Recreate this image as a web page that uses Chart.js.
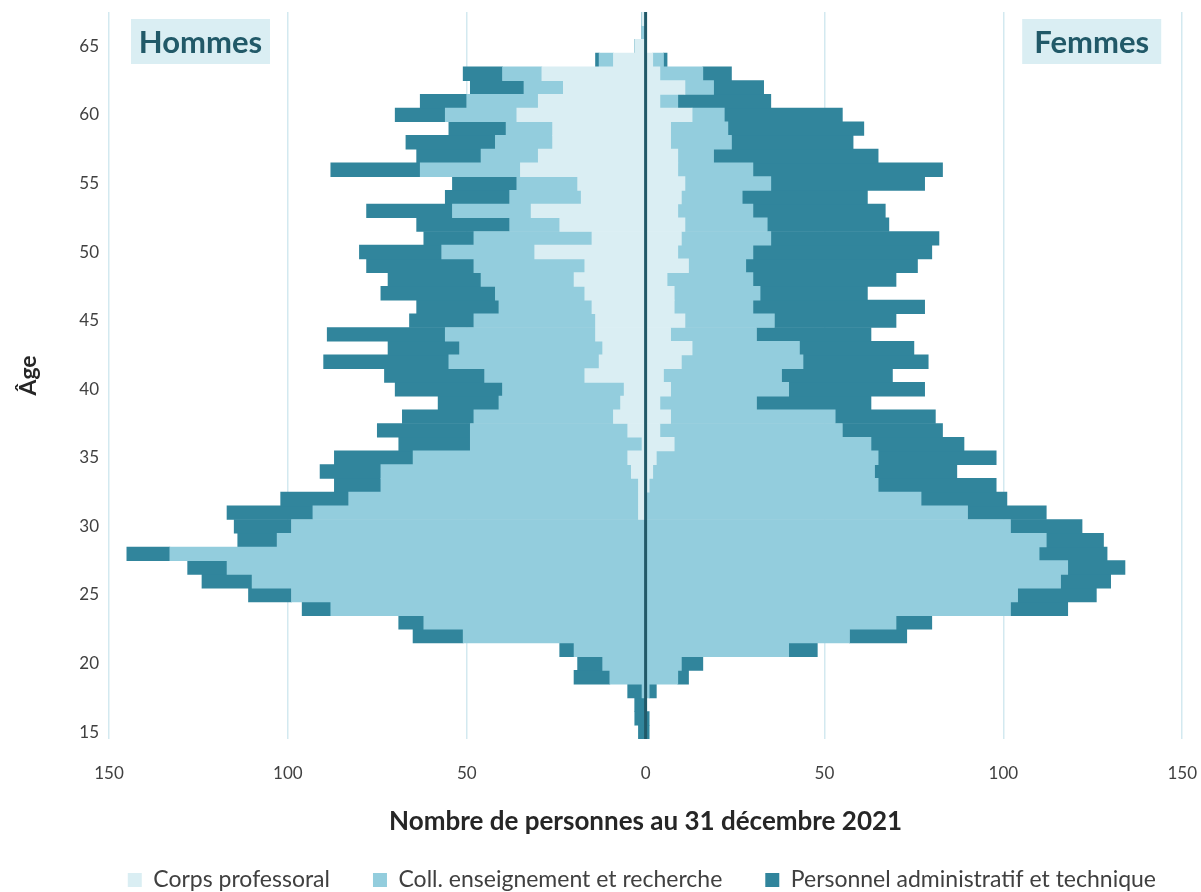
<!DOCTYPE html>
<html>
<head>
<meta charset="utf-8">
<title>Pyramide des âges</title>
<script src="https://cdn.jsdelivr.net/npm/chart.js@4.4.1/dist/chart.umd.min.js"></script>
<style>
  html, body { margin: 0; padding: 0; background: #ffffff; overflow: hidden; }
  #wrap { position: relative; width: 1201px; height: 892px; }
</style>
</head>
<body>
<div id="wrap"><canvas id="chart"></canvas></div>
<script>
// ages 15..67, one bar per year
var ages = [15, 16, 17, 18, 19, 20, 21, 22, 23, 24, 25, 26, 27, 28, 29, 30, 31, 32, 33, 34,
  35, 36, 37, 38, 39, 40, 41, 42, 43, 44, 45, 46, 47, 48, 49, 50, 51, 52, 53, 54,
  55, 56, 57, 58, 59, 60, 61, 62, 63, 64, 65, 66, 67];

var seriesNames = ["Corps professoral", "Coll. enseignement et recherche", "Personnel administratif et technique"];

// Hommes (counts, drawn to the left)
var menCorps = [0, 0, 0, 0, 0, 0, 0, 0, 0, 0, 0, 0, 0, 0, 0, 0, 2, 2, 2, 4,
  5, 1, 5, 9, 7, 6, 17, 13, 12, 14, 14, 15, 17, 20, 17, 31, 15, 24, 32, 18,
  19, 35, 30, 26, 26, 36, 30, 23, 29, 9, 3, 0, 1];
var menColl = [0, 0, 0, 1, 10, 12, 20, 51, 62, 88, 99, 110, 117, 133, 103, 99, 91, 81, 72, 70,
  60, 48, 44, 39, 34, 34, 28, 42, 40, 42, 34, 26, 25, 26, 31, 26, 33, 14, 22, 20,
  17, 28, 16, 16, 13, 20, 20, 11, 11, 4, 0, 1, 0];
var menPat = [2, 3, 3, 4, 10, 7, 4, 14, 7, 8, 12, 14, 11, 12, 11, 16, 24, 19, 13, 17,
  22, 20, 26, 20, 17, 30, 28, 35, 20, 33, 18, 23, 32, 26, 30, 23, 14, 26, 24, 18,
  18, 25, 18, 25, 16, 14, 13, 15, 11, 1, 0, 0, 0];

// Femmes (counts, drawn to the right)
var womenCorps = [0, 0, 0, 0, 0, 0, 0, 0, 0, 0, 0, 0, 0, 0, 0, 0, 0, 0, 1, 2,
  3, 8, 4, 7, 4, 7, 5, 10, 13, 7, 11, 8, 8, 6, 12, 9, 10, 11, 9, 10,
  11, 9, 9, 7, 7, 13, 4, 11, 4, 2, 0, 0, 0];
var womenColl = [0, 0, 0, 1, 9, 10, 40, 57, 70, 102, 104, 116, 118, 110, 112, 102, 90, 77, 64, 62,
  62, 55, 51, 46, 27, 33, 33, 34, 30, 24, 25, 22, 24, 24, 16, 21, 25, 23, 21, 17,
  24, 21, 10, 17, 16, 9, 5, 8, 12, 3, 0, 0, 0];
var womenPat = [1, 1, 0, 2, 3, 6, 8, 16, 10, 16, 22, 14, 16, 19, 16, 20, 22, 24, 33, 23,
  33, 26, 28, 28, 32, 38, 31, 35, 32, 32, 34, 48, 30, 40, 48, 50, 47, 34, 37, 35,
  43, 53, 46, 34, 38, 33, 26, 14, 8, 1, 0, 0, 0];

var xTicks = [-150, -100, -50, 0, 50, 100, 150];

var COLORS = ["#DAEEF3", "#93CDDD", "#31859C"];
var DARK = "#215968";
var TEXT = "#404040";
var CLEAR = "rgba(0,0,0,0)";
var FONT = "Lato, 'Open Sans', sans-serif";

function negate(arr) {
  return arr.map(function (v) { return -v; });
}

function makeSet(label, data, color) {
  return {
    label: label,
    data: data,
    backgroundColor: color,
    borderWidth: 0,
    stack: "pyramide",
    barPercentage: 1,
    categoryPercentage: 1
  };
}

// center line on top of the bars + the two side tags
var pyramidDecor = {
  id: "pyramidDecor",
  afterDatasetsDraw: function (chart) {
    var ctx = chart.ctx;
    var area = chart.chartArea;
    var x0 = chart.scales.x.getPixelForValue(0);
    ctx.save();
    ctx.strokeStyle = DARK;
    ctx.lineWidth = 3;
    ctx.beginPath();
    ctx.moveTo(x0, area.top);
    ctx.lineTo(x0, area.bottom);
    ctx.stroke();
    ctx.restore();
  },
  afterDraw: function (chart) {
    var ctx = chart.ctx;
    var area = chart.chartArea;
    var w = 139, hgt = 45;
    function tag(text, left) {
      ctx.save();
      ctx.fillStyle = "#DAEEF3";
      ctx.fillRect(left, area.top + 7, w, hgt);
      ctx.fillStyle = DARK;
      ctx.font = "bold 31px " + FONT;
      ctx.textAlign = "center";
      ctx.textBaseline = "middle";
      ctx.fillText(text, left + w / 2, area.top + 7 + hgt / 2 + 1);
      ctx.restore();
    }
    tag("Hommes", area.left + 22);
    tag("Femmes", area.right - 21 - w);
  }
};

var datasets = [
  makeSet(seriesNames[0], negate(menCorps), COLORS[0]),
  makeSet(seriesNames[1], negate(menColl), COLORS[1]),
  makeSet(seriesNames[2], negate(menPat), COLORS[2]),
  makeSet(seriesNames[0], womenCorps, COLORS[0]),
  makeSet(seriesNames[1], womenColl, COLORS[1]),
  makeSet(seriesNames[2], womenPat, COLORS[2])
];

new Chart(document.getElementById("chart"), {
  type: "bar",
  data: { labels: ages.map(String), datasets: datasets },
  plugins: [pyramidDecor],
  options: {
    indexAxis: "y",
    responsive: true,
    maintainAspectRatio: false,
    animation: false,
    devicePixelRatio: 1,
    layout: { padding: { left: 0, right: 2, top: 12, bottom: -9.5 } },
    scales: {
      x: {
        type: "linear",
        stacked: true,
        min: xTicks[0],
        max: xTicks[xTicks.length - 1],
        afterBuildTicks: function (scale) {
          scale.ticks = xTicks.map(function (v) { return { value: v }; });
        },
        afterFit: function (scale) { scale.height = 86.5; },
        ticks: {
          padding: 4,
          color: TEXT,
          font: { family: FONT, size: 17 },
          callback: function (v) { return Math.abs(v); }
        },
        grid: {
          drawTicks: true,
          tickLength: 20,
          tickColor: CLEAR,
          lineWidth: 1.5,
          color: function (c) { return c.tick && c.tick.value === 0 ? CLEAR : "#D3E9F0"; }
        },
        border: { display: false },
        title: {
          display: true,
          text: "Nombre de personnes au 31 décembre 2021",
          color: "#262626",
          font: { family: FONT, size: 26, weight: "bold" },
          padding: { top: 24, bottom: -12 }
        }
      },
      y: {
        type: "category",
        stacked: true,
        reverse: true,
        afterFit: function (scale) { scale.width = 109; },
        grid: {
          display: true,
          drawOnChartArea: false,
          drawTicks: true,
          tickLength: 10,
          tickColor: CLEAR,
          color: CLEAR
        },
        border: { display: false },
        ticks: {
          autoSkip: false,
          padding: 0,
          color: TEXT,
          font: { family: FONT, size: 17 },
          callback: function (v) {
            var age = Number(this.getLabelForValue(v));
            return age % 5 === 0 ? String(age) : "";
          }
        },
        title: {
          display: true,
          text: "Âge",
          color: "#262626",
          font: { family: FONT, size: 23, weight: "bold" },
          padding: { top: 15, bottom: 0 }
        }
      }
    },
    plugins: {
      legend: {
        position: "bottom",
        align: "end",
        labels: {
          boxWidth: 14,
          boxHeight: 14,
          padding: 43,
          color: TEXT,
          font: { family: FONT, size: 23 },
          filter: function (item) { return item.datasetIndex < 3; }
        }
      },
      tooltip: { enabled: true }
    }
  }
});
</script>
</body>
</html>
